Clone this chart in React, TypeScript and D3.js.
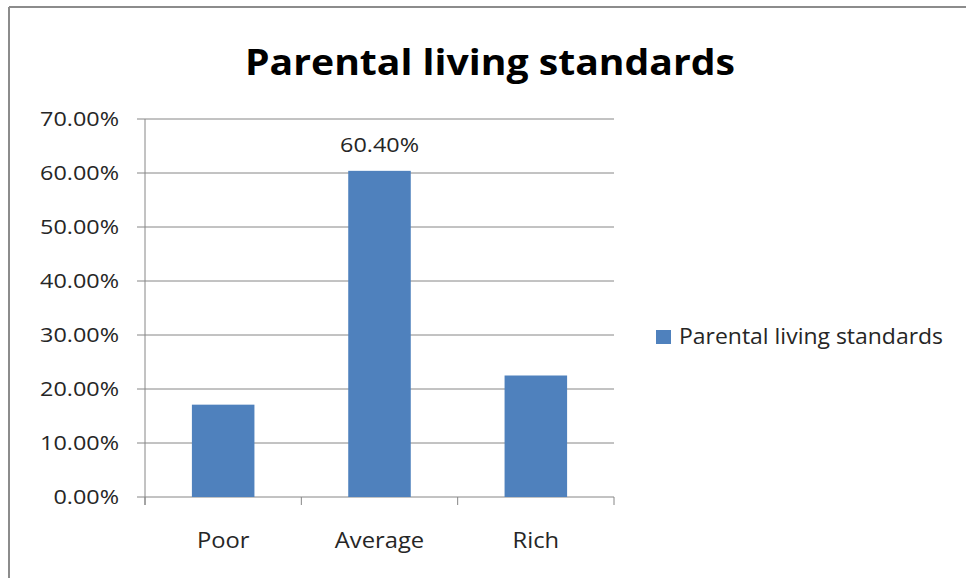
import React from "react";
import * as d3 from "d3";

const categories = ["Poor", "Average", "Rich"];
const values = [0.171, 0.604, 0.225];
const yTicks = [0, 0.1, 0.2, 0.3, 0.4, 0.5, 0.6, 0.7];
const seriesName = "Parental living standards";
const chartTitle = "Parental living standards";
const labeled = [false, true, false];

const W = 966;
const H = 578;
const FONT = "'Open Sans', 'DejaVu Sans', sans-serif";
const BAR = "#4f81bd";
const GRID = "#868686";
const SX = 1.17;

export default function App() {
  const left = 145;
  const right = 614;
  const top = 119;
  const bottom = 497;
  const x = d3.scaleBand<string>().domain(categories).range([left, right]).paddingInner(0).paddingOuter(0);
  const y = d3.scaleLinear().domain([0, 0.7]).range([bottom, top]);
  const bw = x.bandwidth() / 2.5;
  const fmt = d3.format(".2%");

  return (
    <svg
      width={W}
      height={H}
      style={{ position: "absolute", left: 0, top: 0, background: "#fff" }}
      fontFamily={FONT}
    >
      <rect x={0} y={0} width={W} height={H} fill="#fff" />
      {/* chart border */}
      <line x1={9} y1={7} x2={W} y2={7} stroke="#8c8c8c" strokeWidth={2} />
      <line x1={9} y1={7} x2={9} y2={H} stroke="#8c8c8c" strokeWidth={2} />

      <text
        x={490}
        y={75}
        textAnchor="middle"
        fontSize={36}
        fontWeight="bold"
        fill="#000"
        textLength={490}
        lengthAdjust="spacingAndGlyphs"
      >
        {chartTitle}
      </text>

      {/* gridlines & y ticks */}
      {yTicks.map((t) => (
        <g key={t}>
          <line x1={137} x2={right} y1={y(t)} y2={y(t)} stroke={GRID} strokeWidth={1} />
          <text
            transform={`translate(119,${y(t) + 7}) scale(${SX},1)`}
            textAnchor="end"
            fontSize={20}
            fill="#262626"
          >
            {fmt(t)}
          </text>
        </g>
      ))}
      {/* y axis */}
      <line x1={left} x2={left} y1={top} y2={bottom + 8} stroke={GRID} strokeWidth={1} />
      {/* x ticks */}
      {[...categories.map((c) => x(c) as number), right].map((px, i) => (
        <line key={i} x1={px} x2={px} y1={bottom} y2={bottom + 8} stroke={GRID} strokeWidth={1} />
      ))}

      {/* bars */}
      {categories.map((c, i) => {
        const cx = (x(c) as number) + x.bandwidth() / 2;
        return (
          <g key={c}>
            <rect
              x={cx - bw / 2}
              y={y(values[i])}
              width={bw}
              height={bottom - y(values[i])}
              fill={BAR}
            />
            {labeled[i] && (
              <text
                transform={`translate(${cx},${y(values[i]) - 19}) scale(${SX},1)`}
                textAnchor="middle"
                fontSize={20}
                fill="#262626"
              >
                {fmt(values[i])}
              </text>
            )}
            <text
              transform={`translate(${cx},548) scale(1.08,1)`}
              textAnchor="middle"
              fontSize={22}
              fill="#262626"
            >
              {c}
            </text>
          </g>
        );
      })}

      {/* legend */}
      <rect x={656} y={330} width={15} height={14} fill={BAR} />
      <text x={679} y={344} fontSize={21} fill="#262626" textLength={264} lengthAdjust="spacingAndGlyphs">
        {seriesName}
      </text>
    </svg>
  );
}
